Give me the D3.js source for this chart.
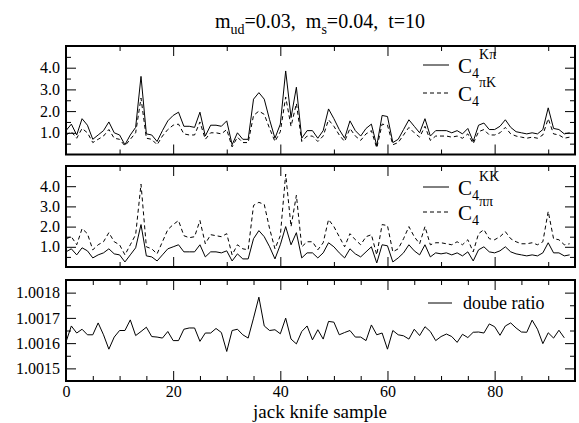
<html>
<script src="https://d3js.org/d3.v7.min.js"></script>
<style>
body { margin: 0; background: #fff; }
text { font-family: "Liberation Serif", "Times New Roman", serif; fill: #000; }
</style>
<body>
<svg width=579 height=423></svg>
<script>

// C4 K-pi (solid) and C4 pi-K (dashed), top panel
var c4KPi = [1.1, 1.4, 0.9, 1.65, 1.35, 0.7, 0.9, 1.1, 1.5, 1.0,
  0.9, 0.45, 0.9, 1.25, 3.6, 0.95, 0.9, 0.6, 1.1, 1.55,
  1.8, 1.95, 1.3, 1.3, 1.25, 1.95, 0.85, 1.35, 1.35, 1.3,
  1.55, 0.45, 1.0, 0.7, 0.7, 2.55, 2.85, 2.55, 1.6, 0.75,
  1.4, 3.85, 1.7, 3.1, 0.75, 1.1, 1.1, 0.75, 1.1, 2.1,
  1.65, 1.15, 0.75, 1.55, 1.1, 0.85, 1.2, 1.4, 0.4, 1.8,
  1.75, 0.55, 0.7, 1.15, 1.6, 1.3, 1.0, 1.65, 0.85, 1.1,
  1.1, 1.1, 1.0, 1.1, 0.95, 1.2, 0.6, 1.35, 1.45, 1.15,
  1.15, 1.3, 1.6, 1.25, 1.05, 1.0, 0.95, 1.0, 0.95, 1.15,
  2.15, 1.2, 1.15, 0.95, 1.0];
var c4PiK = [0.9, 1.05, 0.75, 1.2, 1.0, 0.55, 0.7, 0.85, 1.15, 0.75,
  0.7, 0.4, 0.7, 1.0, 2.6, 0.75, 0.7, 0.45, 0.85, 1.15,
  1.35, 1.4, 0.95, 0.9, 0.9, 1.5, 0.7, 1.0, 1.0, 0.95,
  1.15, 0.35, 0.8, 0.55, 0.55, 1.8, 2.0, 1.85, 1.2, 0.6,
  1.05, 2.65, 1.3, 2.35, 0.6, 0.85, 0.85, 0.6, 0.85, 1.6,
  1.3, 0.9, 0.6, 1.2, 0.85, 0.65, 0.95, 1.1, 0.3, 1.4,
  1.35, 0.45, 0.55, 0.9, 1.25, 1.0, 0.8, 1.3, 0.65, 0.85,
  0.85, 0.85, 0.8, 0.85, 0.75, 0.95, 0.5, 1.05, 1.15, 0.9,
  0.9, 1.0, 1.25, 0.95, 0.85, 0.8, 0.75, 0.8, 0.75, 0.9,
  1.65, 0.95, 0.9, 0.75, 0.8];

// C4 KK (solid) and C4 pi-pi (dashed), middle panel
var c4KK = [0.75, 0.9, 0.6, 0.95, 0.8, 0.45, 0.6, 0.7, 0.9, 0.65,
  0.6, 0.25, 0.6, 0.95, 2.1, 0.55, 0.5, 0.3, 0.6, 0.9,
  1.0, 1.1, 0.75, 0.75, 0.75, 1.1, 0.5, 0.75, 0.75, 0.7,
  0.8, 0.3, 0.65, 0.4, 0.4, 1.4, 1.8, 1.5, 1.0, 0.4,
  1.1, 2.0, 1.1, 1.7, 0.45, 0.7, 0.7, 0.45, 0.7, 1.2,
  1.0, 0.7, 0.45, 0.9, 0.65, 0.5, 0.75, 1.0, 0.2, 1.1,
  1.05, 0.25, 0.45, 0.7, 1.1, 0.8, 0.6, 1.1, 0.5, 0.7,
  0.65, 0.7, 0.6, 0.7, 0.55, 0.75, 0.3, 0.85, 1.0, 0.75,
  0.7, 0.8, 1.0, 0.75, 0.65, 0.6, 0.55, 0.6, 0.55, 0.7,
  1.2, 0.7, 0.7, 0.55, 0.6];
var c4PiPi = [1.4, 1.5, 1.1, 1.9, 1.65, 0.85, 1.1, 1.25, 1.7, 1.25,
  1.1, 0.6, 1.1, 1.6, 4.1, 1.0, 0.9, 0.65, 1.25, 1.85,
  2.1, 2.3, 1.55, 1.45, 1.5, 2.3, 1.15, 1.6, 1.55, 1.5,
  1.65, 0.6, 1.1, 0.9, 0.85, 3.05, 3.2, 3.1, 1.9, 0.9,
  1.55, 4.6, 2.0, 3.55, 1.0, 1.25, 1.25, 0.85, 1.2, 2.35,
  2.0, 1.5, 1.0, 1.65, 1.35, 1.1, 1.5, 1.6, 0.6, 2.1,
  2.05, 0.75, 0.9, 1.4, 2.0, 1.5, 1.15, 2.0, 1.1, 1.2,
  1.2, 1.15, 1.1, 1.25, 1.1, 1.35, 0.75, 1.65, 1.85, 1.4,
  1.35, 1.5, 1.75, 1.4, 1.25, 1.15, 1.15, 1.2, 1.1, 1.25,
  2.75, 1.4, 1.35, 1.1, 1.15];

// double ratio, bottom panel
var doubleRatio = [1.001605, 1.001668, 1.001640, 1.001655, 1.001633, 1.001633, 1.001680, 1.001633, 1.001576, 1.001624,
  1.001650, 1.001650, 1.001692, 1.001630, 1.001646, 1.001663, 1.001626, 1.001624, 1.001620, 1.001646,
  1.001610, 1.001610, 1.001655, 1.001660, 1.001660, 1.001607, 1.001640, 1.001640, 1.001658, 1.001642,
  1.001567, 1.001650, 1.001655, 1.001633, 1.001620, 1.001699, 1.001782, 1.001668, 1.001650, 1.001653,
  1.001637, 1.001699, 1.001616, 1.001597, 1.001646, 1.001668, 1.001613, 1.001653, 1.001616, 1.001686,
  1.001683, 1.001633, 1.001642, 1.001650, 1.001624, 1.001624, 1.001610, 1.001672, 1.001633, 1.001640,
  1.001576, 1.001650, 1.001633, 1.001629, 1.001616, 1.001655, 1.001630, 1.001665, 1.001646, 1.001610,
  1.001626, 1.001636, 1.001626, 1.001603, 1.001635, 1.001622, 1.001643, 1.001644, 1.001640, 1.001676,
  1.001665, 1.001631, 1.001668, 1.001680, 1.001660, 1.001644, 1.001643, 1.001691, 1.001655, 1.001598,
  1.001641, 1.001620, 1.001651, 1.001621];

var xMajor = [0, 20, 40, 60, 80];
var c4Major = [1.0, 2.0, 3.0, 4.0];
var c4Minor = [0.5, 1.5, 2.5, 3.5, 4.5];
var ratioMajor = [1.0015, 1.0016, 1.0017, 1.0018];
var ratioMinor = [1.00155, 1.00165, 1.00175];

var FONT = '"Liberation Serif", "Times New Roman", serif';
var svg = d3.select('svg');
var xs = d3.scaleLinear().domain([0, 95]).range([66, 575]);
var L = 66, R = 575;

function drawPanel(top, bottom, ys, yMajor, yMinor, xMinor, fmt, xLabels) {
  var g = svg.append('g');

  // x ticks, bottom and top, pointing inwards
  g.append('g').attr('transform', 'translate(0,' + bottom + ')')
    .call(d3.axisBottom(xs).tickValues(xMajor).tickSize(-10).tickPadding(5)
      .tickFormat(xLabels ? d3.format('d') : ''));
  g.append('g').attr('transform', 'translate(0,' + bottom + ')')
    .call(d3.axisBottom(xs).tickValues(xMinor).tickSize(-5).tickFormat(''));
  g.append('g').attr('transform', 'translate(0,' + top + ')')
    .call(d3.axisTop(xs).tickValues(xMajor).tickSize(-10).tickFormat(''));
  g.append('g').attr('transform', 'translate(0,' + top + ')')
    .call(d3.axisTop(xs).tickValues(xMinor).tickSize(-5).tickFormat(''));

  // y ticks, left and right
  g.append('g').attr('transform', 'translate(' + L + ',0)')
    .call(d3.axisLeft(ys).tickValues(yMajor).tickSize(-10).tickPadding(6).tickFormat(d3.format(fmt)));
  g.append('g').attr('transform', 'translate(' + L + ',0)')
    .call(d3.axisLeft(ys).tickValues(yMinor).tickSize(-5).tickFormat(''));
  g.append('g').attr('transform', 'translate(' + R + ',0)')
    .call(d3.axisRight(ys).tickValues(yMajor).tickSize(-10).tickFormat(''));
  g.append('g').attr('transform', 'translate(' + R + ',0)')
    .call(d3.axisRight(ys).tickValues(yMinor).tickSize(-5).tickFormat(''));

  g.selectAll('.domain').remove();
  g.selectAll('g').attr('font-family', FONT);
  g.selectAll('.tick line').attr('stroke', '#000').attr('stroke-width', 1);
  g.selectAll('.tick text').style('font-size', '16px')
    .style('font-family', FONT).attr('fill', '#000');

  g.append('rect').attr('x', L).attr('y', top)
    .attr('width', R - L).attr('height', bottom - top)
    .attr('fill', 'none').attr('stroke', '#000').attr('stroke-width', 2);
  return g;
}

function drawLine(g, data, ys, dashed) {
  var line = d3.line().x(function(d, i) { return xs(i); }).y(function(d) { return ys(d); });
  g.append('path').datum(data)
    .attr('d', line)
    .attr('fill', 'none')
    .attr('stroke', '#000')
    .attr('stroke-width', 1)
    .attr('stroke-dasharray', dashed ? '4,3' : null);
}

function legendC4(y, sup, dashed) {
  svg.append('line').attr('x1', 423).attr('x2', 449).attr('y1', y).attr('y2', y)
    .attr('stroke', '#000').attr('stroke-width', 1)
    .attr('stroke-dasharray', dashed ? '4,3' : null);
  var t = svg.append('text').attr('x', 458).attr('y', y + 8)
    .style('font-family', FONT).style('font-size', '21px');
  t.append('tspan').text('C');
  t.append('tspan').attr('dy', 5).style('font-size', '14px').text('4');
  t.append('tspan').attr('dy', -19).style('font-size', '14px').text(sup);
}

// top panel
var y1 = d3.scaleLinear().domain([0, 5]).range([154.5, 46]);
var p1 = drawPanel(46, 154.5, y1, c4Major, c4Minor, [10, 30, 50, 70, 90], '.1f', false);
drawLine(p1, c4KPi, y1, false);
drawLine(p1, c4PiK, y1, true);
legendC4(65, 'K\u03c0', false);
legendC4(93, '\u03c0K', true);

// middle panel
var y2 = d3.scaleLinear().domain([0, 5]).range([267, 166]);
var p2 = drawPanel(166, 267, y2, c4Major, c4Minor, [10, 30, 50, 70, 90], '.1f', false);
drawLine(p2, c4KK, y2, false);
drawLine(p2, c4PiPi, y2, true);
legendC4(187, 'KK', false);
legendC4(212, '\u03c0\u03c0', true);

// bottom panel
var y3 = d3.scaleLinear().domain([1.00145, 1.00185]).range([381, 280]);
var xMinor5 = [5, 10, 15, 25, 30, 35, 45, 50, 55, 65, 70, 75, 85, 90];
var p3 = drawPanel(280, 381, y3, ratioMajor, ratioMinor, xMinor5, '.4f', true);
drawLine(p3, doubleRatio, y3, false);
svg.append('line').attr('x1', 428).attr('x2', 452).attr('y1', 303).attr('y2', 303)
  .attr('stroke', '#000').attr('stroke-width', 1);
svg.append('text').attr('x', 463).attr('y', 309)
  .style('font-family', FONT).style('font-size', '18px').text('doube ratio');

// title
var title = svg.append('text').attr('x', 320).attr('y', 28)
  .attr('text-anchor', 'middle').style('font-family', FONT)
  .style('font-size', '20px').style('white-space', 'pre');
title.append('tspan').text('m');
title.append('tspan').attr('dy', 6).style('font-size', '14px').text('ud');
title.append('tspan').attr('dy', -6).text('=0.03,  m');
title.append('tspan').attr('dy', 6).style('font-size', '14px').text('s');
title.append('tspan').attr('dy', -6).text('=0.04,  t=10');

// x label
svg.append('text').attr('x', 320).attr('y', 418)
  .attr('text-anchor', 'middle').style('font-family', FONT)
  .style('font-size', '19px').text('jack knife sample');

</script>
</body>
</html>
